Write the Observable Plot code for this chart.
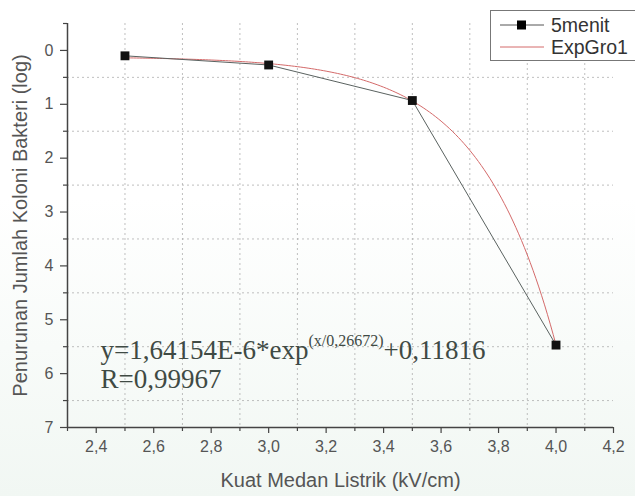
<!DOCTYPE html>
<html>
<head>
<meta charset="utf-8">
<script src="https://cdn.jsdelivr.net/npm/d3@7"></script>
<script src="https://cdn.jsdelivr.net/npm/@observablehq/plot@0.6"></script>
<style>
  body { margin: 0; background: #fff; }
  #chart {
    position: relative; width: 635px; height: 496px; overflow: hidden;
    font-family: "Liberation Sans", Arial, sans-serif;
    background: linear-gradient(to bottom, #ffffff 40%, #f1f7f3 100%);
  }
  .legend {
    position: absolute; left: 490px; top: 10px; width: 150px; height: 51px;
    border: 1px solid #777; background: #fff; box-sizing: border-box;
    font-size: 19.5px; color: #333;
  }
  .legend .row { position: absolute; left: 8px; height: 22px; display: flex; align-items: center; }
  .legend .row span { margin-left: 6px; }
</style>
</head>
<body>
<div id="chart">
  <div class="legend">
    <div class="row" style="top:3px">
      <svg width="46" height="12"><line x1="1" x2="45" y1="6" y2="6" stroke="#555" stroke-width="1"/><rect x="18" y="1.5" width="9" height="9" fill="#000"/></svg>
      <span>5menit</span>
    </div>
    <div class="row" style="top:25px">
      <svg width="46" height="12"><line x1="1" x2="45" y1="6" y2="6" stroke="#d46a6a" stroke-width="1"/></svg>
      <span>ExpGro1</span>
    </div>
  </div>
</div>
<script>
// Measured colony reduction (log) at each electric field strength, 5 minute exposure
const fieldStrength = [2.5, 3.0, 3.5, 4.0];
const colonyReduction = [0.10, 0.27, 0.93, 5.47];

// ExpGro1 fit: y = A * exp(x / t) + y0
const fitA = 1.64154e-6;
const fitT = 0.26672;
const fitY0 = 0.11816;
const fitR = "0,99967";

// Axis ticks
const xTicks = [2.4, 2.6, 2.8, 3.0, 3.2, 3.4, 3.6, 3.8, 4.0, 4.2];
const xMinor = [2.3, 2.5, 2.7, 2.9, 3.1, 3.3, 3.5, 3.7, 3.9, 4.1];
const yTicks = [0, 1, 2, 3, 4, 5, 6, 7];
const yMinor = [-0.5, 0.5, 1.5, 2.5, 3.5, 4.5, 5.5, 6.5];

const xLabel = "Kuat Medan Listrik (kV/cm)";
const yLabel = "Penurunan Jumlah Koloni Bakteri (log)";

const measured = fieldStrength.map((x, i) => ({x, y: colonyReduction[i]}));
const fitCurve = d3.range(fieldStrength[0], fieldStrength[fieldStrength.length - 1] + 1e-9, 0.01)
  .map(x => ({x, y: fitA * Math.exp(x / fitT) + fitY0}));

const comma = d => d3.format(".1f")(d).replace(".", ",");
const sans = "'Liberation Sans', Arial, sans-serif";
const serif = "'Liberation Serif', 'Times New Roman', serif";
const axisColor = "#444";
const gridStyle = {stroke: "#aaa", strokeOpacity: 0.75, strokeDasharray: "2,3"};

const plot = Plot.plot({
  width: 635,
  height: 496,
  marginLeft: 67,
  marginRight: 22,
  marginTop: 23,
  marginBottom: 69,
  style: {background: "transparent", fontFamily: sans, color: "#555", overflow: "visible"},
  x: {domain: [2.3, 4.2]},
  y: {domain: [-0.5, 7], reverse: true},
  marks: [
    Plot.gridX(xMinor.slice(1), gridStyle),
    Plot.gridY(yMinor.slice(1), gridStyle),
    Plot.ruleX([2.3], {stroke: axisColor, strokeWidth: 1.5}),
    Plot.ruleY([7], {stroke: axisColor, strokeWidth: 1.5}),
    Plot.axisX(xTicks, {tickSize: 6, tickPadding: 7, tickFormat: comma, fontSize: 16, stroke: axisColor, strokeWidth: 1.2, fill: "#555", label: null}),
    Plot.axisX(xMinor, {tickSize: 4, tickFormat: () => "", stroke: axisColor, strokeWidth: 1.2, label: null}),
    Plot.axisY(yTicks, {tickSize: 7, tickPadding: 7, tickFormat: d => String(d), fontSize: 16, stroke: axisColor, strokeWidth: 1.2, fill: "#555", label: null}),
    Plot.axisY(yMinor, {tickSize: 4, tickFormat: () => "", stroke: axisColor, strokeWidth: 1.2, label: null}),
    Plot.text([xLabel], {frameAnchor: "bottom", lineAnchor: "middle", dy: 53, fontSize: 20, fill: "#555"}),
    Plot.text([yLabel], {frameAnchor: "left", textAnchor: "middle", lineAnchor: "middle", dx: -47, rotate: -90, fontSize: 20, fill: "#555"}),
    Plot.line(fitCurve, {x: "x", y: "y", stroke: "#d46a6a", strokeWidth: 1}),
    Plot.line(measured, {x: "x", y: "y", stroke: "#5a6260", strokeWidth: 1}),
    Plot.dot(measured, {x: "x", y: "y", symbol: "square", r: 5, fill: "#111", stroke: "none"}),
    Plot.text([{x: 2.415, y: 5.72}], {x: "x", y: "y", text: () => "eq", textAnchor: "start", lineAnchor: "bottom", fontSize: 27, fontFamily: serif, fill: "#3f4a44", className: "fit-equation"}),
    Plot.text([{x: 2.415, y: 5.72}], {x: "x", y: "y", text: () => "R=" + fitR, textAnchor: "start", lineAnchor: "bottom", dy: 29, fontSize: 27, fontFamily: serif, fill: "#3f4a44"})
  ]
});

// Equation with a superscript exponent
const eq = d3.select(plot).select("g.fit-equation text");
eq.text(null);
eq.append("tspan").text("y=1,64154E-6*exp");
eq.append("tspan").attr("font-size", 16).attr("dy", -13).text("(x/0,26672)");
eq.append("tspan").attr("font-size", 27).attr("dy", 13).text("+0,11816");

document.getElementById("chart").prepend(plot);
</script>
</body>
</html>
